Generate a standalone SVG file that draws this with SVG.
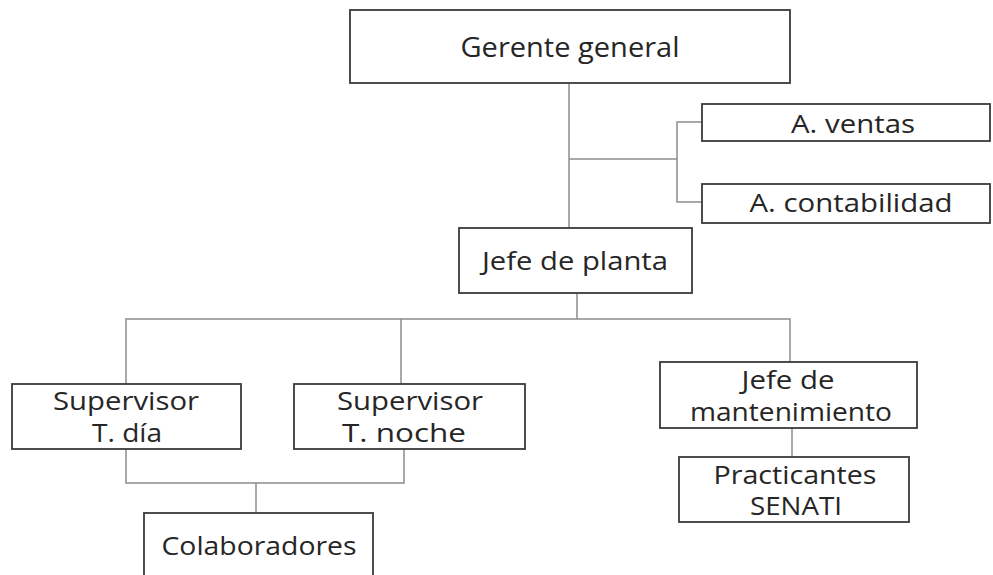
<svg xmlns="http://www.w3.org/2000/svg" width="993" height="575" viewBox="0 0 993 575">
  <style>
    .box { fill: #ffffff; stroke: #3a3a3a; stroke-width: 1.8; }
    .lbl { font-family: "Open Sans", "Liberation Sans", sans-serif; font-size: 25px; fill: #262626; text-anchor: middle; }
    .big { font-size: 28px; }
    .conn { fill: none; stroke: #8c8c8c; stroke-width: 1.5; }
  </style>
  <rect width="993" height="575" fill="#ffffff"/>

  <!-- connectors -->
  <g id="connectors">
    <path class="conn" d="M569 83 V228"/>
    <path class="conn" d="M569 159 H677"/>
    <path class="conn" d="M702 122 H677 V202 H702"/>
    <path class="conn" d="M577 293 V319"/>
    <path class="conn" d="M126 384 V319 H790 V362"/>
    <path class="conn" d="M401 319 V384"/>
    <path class="conn" d="M792 428 V457"/>
    <path class="conn" d="M126 449 V483 H404 V449"/>
    <path class="conn" d="M256 483 V513"/>
  </g>

  <g id="gerente">
    <rect class="box" x="350" y="10" width="440" height="73"/>
    <text class="lbl big" x="570" y="57" textLength="219" lengthAdjust="spacingAndGlyphs">Gerente general</text>
  </g>

  <g id="ventas">
    <rect class="box" x="702" y="104" width="288" height="37"/>
    <text class="lbl" x="853" y="133" font-size="27" textLength="124" lengthAdjust="spacingAndGlyphs">A. ventas</text>
  </g>

  <g id="contabilidad">
    <rect class="box" x="702" y="184" width="288" height="39"/>
    <text class="lbl" x="851" y="212" font-size="27" textLength="203" lengthAdjust="spacingAndGlyphs">A. contabilidad</text>
  </g>

  <g id="jefe-planta">
    <rect class="box" x="459" y="228" width="233" height="65"/>
    <text class="lbl" x="575" y="270" textLength="186" lengthAdjust="spacingAndGlyphs">Jefe de planta</text>
  </g>

  <g id="supervisor-dia">
    <rect class="box" x="12" y="384" width="229" height="65"/>
    <text class="lbl" x="126" y="410" textLength="146" lengthAdjust="spacingAndGlyphs">Supervisor</text>
    <text class="lbl" x="127" y="442" textLength="70" lengthAdjust="spacingAndGlyphs">T. día</text>
  </g>

  <g id="supervisor-noche">
    <rect class="box" x="294" y="384" width="231" height="65"/>
    <text class="lbl" x="410" y="410" textLength="146" lengthAdjust="spacingAndGlyphs">Supervisor</text>
    <text class="lbl" x="404" y="442" textLength="124" lengthAdjust="spacingAndGlyphs">T. noche</text>
  </g>

  <g id="jefe-mantenimiento">
    <rect class="box" x="660" y="362" width="257" height="66"/>
    <text class="lbl" x="788" y="389" textLength="93" lengthAdjust="spacingAndGlyphs">Jefe de</text>
    <text class="lbl" x="791" y="421" textLength="202" lengthAdjust="spacingAndGlyphs">mantenimiento</text>
  </g>

  <g id="practicantes">
    <rect class="box" x="679" y="457" width="230" height="65"/>
    <text class="lbl" x="795" y="484" textLength="163" lengthAdjust="spacingAndGlyphs">Practicantes</text>
    <text class="lbl" x="796" y="515" textLength="92" lengthAdjust="spacingAndGlyphs">SENATI</text>
  </g>

  <g id="colaboradores">
    <rect class="box" x="144" y="513" width="229" height="80"/>
    <text class="lbl" x="259" y="555" font-size="27" textLength="195" lengthAdjust="spacingAndGlyphs">Colaboradores</text>
  </g>
</svg>
